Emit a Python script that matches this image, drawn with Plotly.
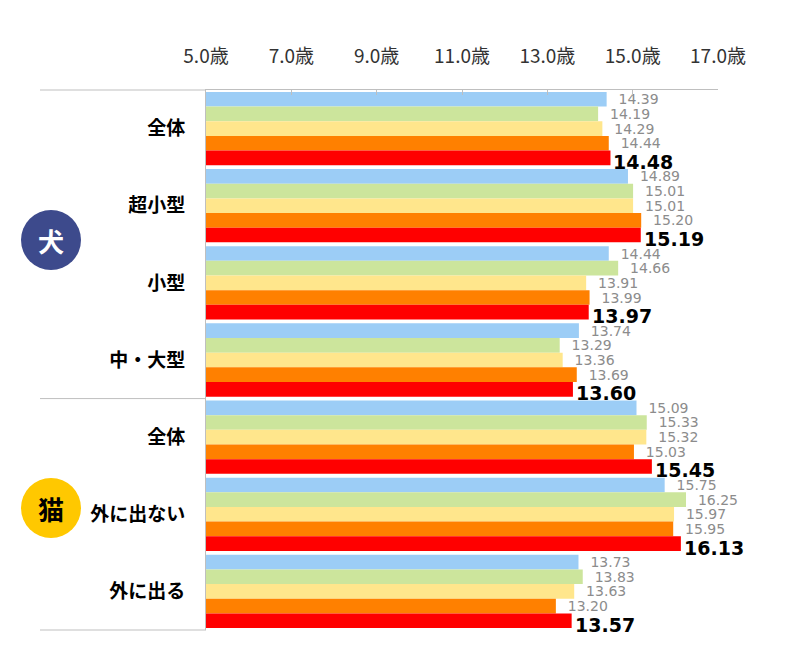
import plotly.graph_objects as go

categories = ["全体", "超小型", "小型", "中・大型", "全体", "外に出ない", "外に出る"]
series_names = ["系列1", "系列2", "系列3", "系列4", "系列5"]
values = {
    "系列1": [14.39, 14.89, 14.44, 13.74, 15.09, 15.75, 13.73],
    "系列2": [14.19, 15.01, 14.66, 13.29, 15.33, 16.25, 13.83],
    "系列3": [14.29, 15.01, 13.91, 13.36, 15.32, 15.97, 13.63],
    "系列4": [14.44, 15.20, 13.99, 13.69, 15.03, 15.95, 13.20],
    "系列5": [14.48, 15.19, 13.97, 13.60, 15.45, 16.13, 13.57],
}
colors = ["#9CCDF6", "#CCE59C", "#FFE68C", "#FF8000", "#FF0000"]
tick_vals = [5, 7, 9, 11, 13, 15, 17]
tick_text = ["5.0歳", "7.0歳", "9.0歳", "11.0歳", "13.0歳", "15.0歳", "17.0歳"]

W, H = 800, 651
OFF = 8  # page body margin
L, R, T, B = 206 - OFF, 718 - OFF, 90 - OFF, 630 - OFF
BARGAP = 0.05
ypos = list(range(len(categories)))
n = len(series_names)

fig = go.Figure()
for i, name in enumerate(series_names):
    last = i == n - 1
    fig.add_trace(go.Bar(
        y=ypos, x=values[name], name=name, orientation="h",
        marker=dict(color=colors[i], line=dict(width=0)),
        texttemplate=None if last else "\u00a0\u00a0%{x:.2f}",
        textposition="none" if last else "outside", constraintext="none",
        textfont=dict(family="DejaVu Sans", size=14, color="#8C8C8C"),
        cliponaxis=False,
    ))

# bold labels for the latest series, placed slightly below their bars
bw = (1 - BARGAP) / n
off_last = -(1 - BARGAP) / 2 + bw * (n - 0.5)
for yi, v in zip(ypos, values[series_names[-1]]):
    fig.add_annotation(x=v, y=yi + off_last, xref="x", yref="y",
                       text=f"<b>{v:.2f}</b>", showarrow=False,
                       xanchor="left", yanchor="middle", xshift=2, yshift=-4,
                       borderpad=0,
                       font=dict(family="DejaVu Sans", size=19, color="#000000"))

fig.update_layout(
    width=W, height=H,
    margin=dict(l=L, r=W - R, t=T, b=H - B, pad=0),
    paper_bgcolor="white", plot_bgcolor="white",
    barmode="group", bargap=BARGAP, bargroupgap=0,
    showlegend=False,
    xaxis=dict(side="top", range=[5, 17], tickvals=tick_vals, ticktext=tick_text,
               showgrid=False, zeroline=False, showline=True, linecolor="#BFBFBF",
               linewidth=1, ticks="inside", ticklen=5, tickcolor="#BFBFBF",
               ticklabelstandoff=18,
               tickfont=dict(family="Noto Sans CJK JP", size=19, color="#333333")),
    yaxis=dict(range=[6.5, -0.5], tickvals=ypos, ticktext=categories,
               showgrid=False, zeroline=False, showline=True, linecolor="#BFBFBF",
               linewidth=1, ticks="", ticklabelstandoff=16,
               tickfont=dict(family="Noto Sans CJK JP", size=19, color="#000000",
                             weight="bold")),
)

def px_x(px):
    return (px - OFF - L) / (R - L)

def px_y(py):
    return (B - (py - OFF)) / (B - T)

line_style = dict(color="#BFBFBF", width=1)
fig.add_shape(type="line", xref="paper", yref="paper", x0=px_x(40), x1=0,
              y0=1, y1=1, line=line_style)
fig.add_shape(type="line", xref="paper", yref="y", x0=px_x(40), x1=0,
              y0=3.5, y1=3.5, line=line_style)
fig.add_shape(type="line", xref="paper", yref="paper", x0=px_x(40), x1=0,
              y0=0, y1=0, line=line_style)

circles = [("犬", 51, 240, "#3D4A8C", "white"), ("猫", 51, 508, "#FFC800", "black")]
for label, cx, cy, fill, tcol in circles:
    fig.add_shape(type="circle", xref="paper", yref="paper",
                  xsizemode="pixel", ysizemode="pixel",
                  xanchor=px_x(cx), yanchor=px_y(cy),
                  x0=-30, x1=30, y0=-30, y1=30,
                  fillcolor=fill, line=dict(width=0))
    fig.add_annotation(x=px_x(cx), y=px_y(cy), xref="paper", yref="paper",
                       xanchor="center", yanchor="middle",
                       text=f"<b>{label}</b>", showarrow=False,
                       font=dict(family="Noto Sans CJK JP", size=26, color=tcol))

fig.write_html("out.html")
